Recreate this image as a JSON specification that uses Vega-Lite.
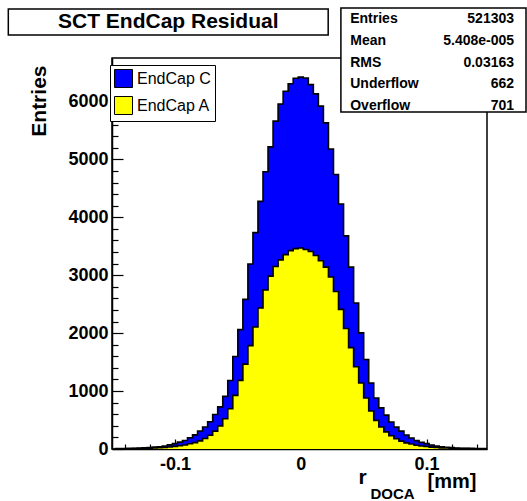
{
  "$schema": "https://vega.github.io/schema/vega-lite/v6.json",
  "width": 375,
  "height": 391,
  "autosize": {"type": "none"},
  "padding": {"left": 112, "top": 58, "right": 40, "bottom": 52},
  "background": "white",
  "config": {
    "view": {"stroke": "black", "strokeWidth": 1.5},
    "axis": {
      "grid": false,
      "domainColor": "black",
      "domainWidth": 1.5,
      "tickColor": "black",
      "tickWidth": 1.2,
      "labelFont": "Liberation Sans",
      "labelFontWeight": "bold",
      "labelFontSize": 18,
      "labelColor": "black",
      "titleFont": "Liberation Sans",
      "titleColor": "black",
      "titleFontWeight": "bold"
    }
  },
  "datasets": {
    "hist": [
      {"x": -0.148, "EndCap A": 3, "EndCap C": 3},
      {"x": -0.144, "EndCap A": 4, "EndCap C": 3},
      {"x": -0.140, "EndCap A": 4, "EndCap C": 4},
      {"x": -0.136, "EndCap A": 5, "EndCap C": 5},
      {"x": -0.132, "EndCap A": 6, "EndCap C": 6},
      {"x": -0.128, "EndCap A": 8, "EndCap C": 7},
      {"x": -0.124, "EndCap A": 10, "EndCap C": 9},
      {"x": -0.120, "EndCap A": 13, "EndCap C": 11},
      {"x": -0.116, "EndCap A": 17, "EndCap C": 15},
      {"x": -0.112, "EndCap A": 21, "EndCap C": 19},
      {"x": -0.108, "EndCap A": 27, "EndCap C": 26},
      {"x": -0.104, "EndCap A": 35, "EndCap C": 37},
      {"x": -0.100, "EndCap A": 45, "EndCap C": 48},
      {"x": -0.096, "EndCap A": 55, "EndCap C": 63},
      {"x": -0.092, "EndCap A": 70, "EndCap C": 78},
      {"x": -0.088, "EndCap A": 90, "EndCap C": 104},
      {"x": -0.084, "EndCap A": 110, "EndCap C": 134},
      {"x": -0.080, "EndCap A": 140, "EndCap C": 170},
      {"x": -0.076, "EndCap A": 182, "EndCap C": 198},
      {"x": -0.072, "EndCap A": 238, "EndCap C": 232},
      {"x": -0.068, "EndCap A": 308, "EndCap C": 288},
      {"x": -0.064, "EndCap A": 398, "EndCap C": 330},
      {"x": -0.060, "EndCap A": 522, "EndCap C": 386},
      {"x": -0.056, "EndCap A": 695, "EndCap C": 488},
      {"x": -0.052, "EndCap A": 925, "EndCap C": 672},
      {"x": -0.048, "EndCap A": 1185, "EndCap C": 875},
      {"x": -0.044, "EndCap A": 1465, "EndCap C": 1118},
      {"x": -0.040, "EndCap A": 1785, "EndCap C": 1410},
      {"x": -0.036, "EndCap A": 2105, "EndCap C": 1630},
      {"x": -0.032, "EndCap A": 2435, "EndCap C": 1840},
      {"x": -0.028, "EndCap A": 2745, "EndCap C": 2040},
      {"x": -0.024, "EndCap A": 2985, "EndCap C": 2230},
      {"x": -0.020, "EndCap A": 3150, "EndCap C": 2510},
      {"x": -0.016, "EndCap A": 3265, "EndCap C": 2690},
      {"x": -0.012, "EndCap A": 3355, "EndCap C": 2820},
      {"x": -0.008, "EndCap A": 3425, "EndCap C": 2880},
      {"x": -0.004, "EndCap A": 3460, "EndCap C": 2940},
      {"x": 0.000, "EndCap A": 3470, "EndCap C": 2950},
      {"x": 0.004, "EndCap A": 3445, "EndCap C": 2960},
      {"x": 0.008, "EndCap A": 3410, "EndCap C": 2880},
      {"x": 0.012, "EndCap A": 3340, "EndCap C": 2790},
      {"x": 0.016, "EndCap A": 3250, "EndCap C": 2670},
      {"x": 0.020, "EndCap A": 3140, "EndCap C": 2490},
      {"x": 0.024, "EndCap A": 2970, "EndCap C": 2210},
      {"x": 0.028, "EndCap A": 2720, "EndCap C": 2020},
      {"x": 0.032, "EndCap A": 2410, "EndCap C": 1820},
      {"x": 0.036, "EndCap A": 2080, "EndCap C": 1600},
      {"x": 0.040, "EndCap A": 1750, "EndCap C": 1390},
      {"x": 0.044, "EndCap A": 1420, "EndCap C": 1100},
      {"x": 0.048, "EndCap A": 1140, "EndCap C": 865},
      {"x": 0.052, "EndCap A": 880, "EndCap C": 665},
      {"x": 0.056, "EndCap A": 655, "EndCap C": 485},
      {"x": 0.060, "EndCap A": 495, "EndCap C": 385},
      {"x": 0.064, "EndCap A": 380, "EndCap C": 330},
      {"x": 0.068, "EndCap A": 295, "EndCap C": 290},
      {"x": 0.072, "EndCap A": 230, "EndCap C": 235},
      {"x": 0.076, "EndCap A": 178, "EndCap C": 200},
      {"x": 0.080, "EndCap A": 136, "EndCap C": 172},
      {"x": 0.084, "EndCap A": 106, "EndCap C": 135},
      {"x": 0.088, "EndCap A": 86, "EndCap C": 104},
      {"x": 0.092, "EndCap A": 66, "EndCap C": 79},
      {"x": 0.096, "EndCap A": 53, "EndCap C": 62},
      {"x": 0.100, "EndCap A": 43, "EndCap C": 49},
      {"x": 0.104, "EndCap A": 33, "EndCap C": 37},
      {"x": 0.108, "EndCap A": 26, "EndCap C": 27},
      {"x": 0.112, "EndCap A": 20, "EndCap C": 20},
      {"x": 0.116, "EndCap A": 16, "EndCap C": 15},
      {"x": 0.120, "EndCap A": 12, "EndCap C": 12},
      {"x": 0.124, "EndCap A": 9, "EndCap C": 9},
      {"x": 0.128, "EndCap A": 7, "EndCap C": 7},
      {"x": 0.132, "EndCap A": 6, "EndCap C": 6},
      {"x": 0.136, "EndCap A": 5, "EndCap C": 5},
      {"x": 0.140, "EndCap A": 4, "EndCap C": 4},
      {"x": 0.144, "EndCap A": 3, "EndCap C": 3},
      {"x": 0.148, "EndCap A": 3, "EndCap C": 3}
    ]
  },
  "layer": [
    {
      "data": {"name": "hist"},
      "transform": [
        {"fold": ["EndCap A", "EndCap C"], "as": ["series", "n"]},
        {"stack": "n", "groupby": ["x"], "sort": [{"field": "series", "order": "ascending"}], "as": ["lo", "hi"]}
      ],
      "mark": {"type": "area", "interpolate": "step", "clip": true, "opacity": 1},
      "encoding": {
        "x": {
          "field": "x", "type": "quantitative",
          "scale": {"domain": [-0.15, 0.148], "nice": false, "zero": false},
          "axis": {"values": [-0.1, 0, 0.1], "tickSize": -10, "labelPadding": 16, "labelExpr": "'' + datum.value",
                   "title": "r", "titleFontSize": 21, "titleAngle": 0, "titleAlign": "left", "titleBaseline": "alphabetic", "titleX": 246, "titleY": 34}
        },
        "y": {
          "field": "hi", "type": "quantitative",
          "scale": {"domain": [0, 6750], "nice": false},
          "axis": {"values": [0, 1000, 2000, 3000, 4000, 5000, 6000], "tickSize": -11, "labelPadding": 15, "labelExpr": "'' + datum.value",
                   "title": "Entries", "titleFontSize": 21, "titleAngle": -90, "titleAlign": "right", "titleBaseline": "alphabetic", "titleX": -67, "titleY": 7}
        },
        "y2": {"field": "lo"},
        "color": {
          "field": "series", "type": "nominal",
          "scale": {"domain": ["EndCap C", "EndCap A"], "range": ["#0000ff", "#ffff00"]},
          "legend": {
            "orient": "none", "legendX": -2, "legendY": 7, "title": null,
            "strokeColor": "black", "fillColor": "white", "padding": 4, "rowPadding": 4,
            "symbolType": "square", "symbolSize": 324, "symbolOpacity": 1,
            "labelFont": "Liberation Sans", "labelFontSize": 16, "labelColor": "black", "labelOffset": 4,
            "encode": {"symbols": {"update": {"stroke": {"value": "black"}, "strokeWidth": {"value": 1}}}}
          }
        }
      }
    },
    {
      "data": {"name": "hist"},
      "transform": [
        {"fold": ["EndCap A", "EndCap C"], "as": ["series", "n"]},
        {"stack": "n", "groupby": ["x"], "sort": [{"field": "series", "order": "ascending"}], "as": ["lo", "hi"]}
      ],
      "mark": {"type": "line", "interpolate": "step", "clip": true, "color": "black", "strokeWidth": 1.6},
      "encoding": {
        "x": {"field": "x", "type": "quantitative", "axis": null},
        "y": {"field": "hi", "type": "quantitative", "axis": null},
        "detail": {"field": "series", "type": "nominal"}
      }
    },
    {
      "data": {"name": "hist"},
      "mark": {"type": "point", "opacity": 0},
      "encoding": {
        "x": {
          "field": "x", "type": "quantitative",
          "axis": {"orient": "bottom", "values": [-0.14, -0.12, -0.08, -0.06, -0.04, -0.02, 0.02, 0.04, 0.06, 0.08, 0.12, 0.14],
                   "tickSize": -5, "labels": false, "domain": false,
                   "title": "[mm]", "titleFontSize": 20, "titleAngle": 0, "titleAlign": "left", "titleBaseline": "alphabetic", "titleX": 315, "titleY": 38}
        },
        "y": {
          "field": "EndCap A", "type": "quantitative",
          "axis": {"orient": "left", "values": [200, 400, 600, 800, 1200, 1400, 1600, 1800, 2200, 2400, 2600, 2800, 3200, 3400, 3600, 3800, 4200, 4400, 4600, 4800, 5200, 5400, 5600, 5800, 6200, 6400, 6600],
                   "tickSize": -6, "labels": false, "domain": false,
                   "title": "DOCA", "titleFontSize": 15, "titleAngle": 0, "titleAlign": "left", "titleBaseline": "alphabetic", "titleX": 258, "titleY": 440}
        }
      }
    },
    {
      "data": {"values": [{}]},
      "mark": {"type": "rect", "fill": "white", "stroke": "black", "strokeWidth": 1.5},
      "encoding": {
        "x": {"datum": -0.2324, "type": "quantitative", "axis": null},
        "x2": {"datum": 0.0218},
        "y": {"datum": 7596, "type": "quantitative", "axis": null},
        "y2": {"datum": 7147}
      }
    },
    {
      "data": {"values": [{}]},
      "mark": {"type": "text", "text": "SCT EndCap Residual", "font": "Liberation Sans", "fontWeight": "bold", "fontSize": 21, "align": "center", "baseline": "middle", "color": "black"},
      "encoding": {
        "x": {"datum": -0.1053, "type": "quantitative", "axis": null},
        "y": {"datum": 7377, "type": "quantitative", "axis": null}
      }
    },
    {
      "data": {"values": [{}]},
      "mark": {"type": "rect", "fill": "white", "stroke": "black", "strokeWidth": 1.5},
      "encoding": {
        "x": {"datum": 0.0319, "type": "quantitative", "axis": null},
        "x2": {"datum": 0.179},
        "y": {"datum": 7613, "type": "quantitative", "axis": null},
        "y2": {"datum": 5818}
      }
    },
    {
      "data": {"values": [{}]},
      "mark": {"type": "text", "text": ["Entries", "Mean", "RMS", "Underflow", "Overflow"], "lineHeight": 21.7, "font": "Liberation Sans", "fontWeight": "bold", "fontSize": 14, "align": "left", "baseline": "middle", "color": "black"},
      "encoding": {
        "x": {"datum": 0.0393, "type": "quantitative", "axis": null},
        "y": {"datum": 7420, "type": "quantitative", "axis": null}
      }
    },
    {
      "data": {"values": [{}]},
      "mark": {"type": "text", "text": ["521303", "5.408e-005", "0.03163", "662", "701"], "lineHeight": 21.7, "font": "Liberation Sans", "fontWeight": "bold", "fontSize": 14, "align": "right", "baseline": "middle", "color": "black"},
      "encoding": {
        "x": {"datum": 0.1695, "type": "quantitative", "axis": null},
        "y": {"datum": 7420, "type": "quantitative", "axis": null}
      }
    }
  ],
  "resolve": {"axis": {"x": "independent", "y": "independent"}}
}
